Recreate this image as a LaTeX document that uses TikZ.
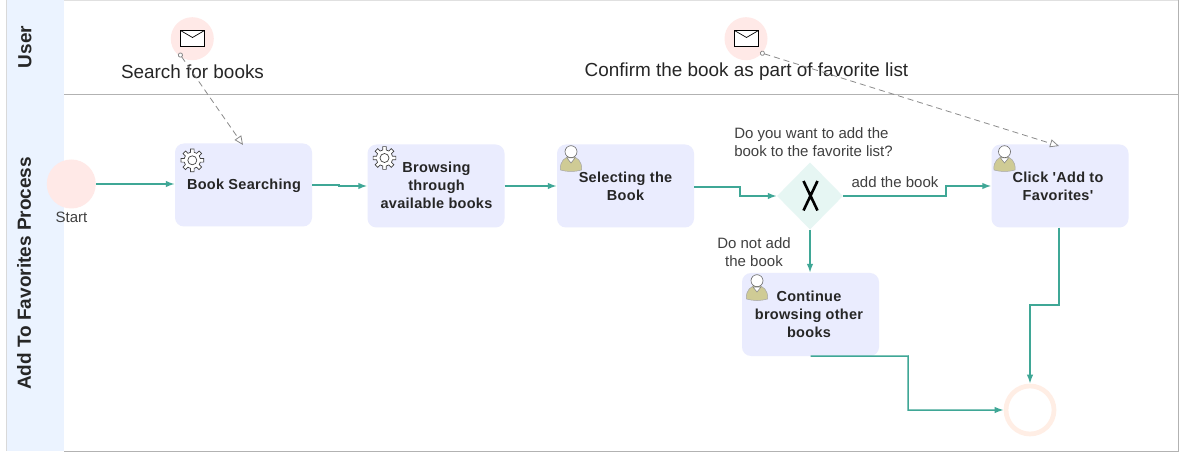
\documentclass[tikz,border=0pt]{standalone}
\usepackage{fontspec}
\setmainfont{Liberation Sans}
\newfontfamily\tasksf{Liberation Sans}[LetterSpace=2]
\usetikzlibrary{arrows.meta,shapes.geometric}
\definecolor{flow}{HTML}{3FA796}
\definecolor{lane}{HTML}{EBF3FF}
\definecolor{taskfill}{HTML}{EAECFE}
\definecolor{evfill}{HTML}{FFE9E7}
\definecolor{endring}{HTML}{FFEEE5}
\definecolor{gw}{HTML}{E6F6F3}
\definecolor{msgc}{HTML}{8A8A8A}
\definecolor{txt}{HTML}{404040}
\definecolor{usr}{HTML}{CFCB95}
\tikzset{
 flowline/.style={draw=flow,line width=1.5pt,-{Latex[length=9pt,width=6.5pt]}},
 msgline/.style={draw=msgc,line width=.8pt,dash pattern=on 6pt off 4pt,{Circle[open,length=5pt,width=5pt,fill=white]}-{Triangle[open,length=9pt,width=8pt,fill=white,line width=.8pt]}},
 taskbox/.style={fill=taskfill,rounded corners=9pt,minimum width=137pt,minimum height=83pt,inner sep=0pt},
 tasktext/.style={font=\fontsize{14.5}{18}\tasksf\bfseries\selectfont,text=black!85,inner sep=0pt,align=center},
 lanelabel/.style={rotate=90,font=\fontsize{19}{22}\selectfont\bfseries,text=black!85},
 plain/.style={font=\fontsize{15}{18}\selectfont,text=txt,align=center,inner sep=0pt},
 bigtxt/.style={font=\fontsize{18.9}{22}\selectfont,text=black!85,inner sep=0pt},
 msgev/.style={circle,fill=evfill,minimum size=43pt,inner sep=0pt},
}
\newcommand{\gearicon}[1]{%
 \begin{scope}[shift={#1}]
  \draw[black!75,line width=.7pt,fill=white]
   (-13:8.2pt) \foreach \a in {0,45,...,315}{
    -- (\a-13:8.2pt) -- (\a-9:11.5pt) -- (\a+9:11.5pt) -- (\a+13:8.2pt) arc[start angle=\a+13,end angle=\a+32,radius=8.2pt]
   } -- cycle;
  \draw[black!75,line width=.7pt,fill=white] (0,0) circle (4.5pt);
 \end{scope}}
\newcommand{\usericon}[1]{%
 \begin{scope}[shift={#1}]
  \draw[black!35,line width=.5pt,fill=usr] (-10.5,12) .. controls (-11.5,3) and (-6,-1) .. (0,-2) .. controls (6,-1) and (11.5,3) .. (10.5,12) .. controls (4,14) and (-4,14) .. (-10.5,12) -- cycle;
  \draw[black!50,line width=.5pt,fill=white] (-4,0) -- (0,5) -- (4,0) -- cycle;
  \draw[black!60,line width=.6pt,fill=white] (0,-6.3) circle (6pt);
 \end{scope}}
\newcommand{\mailicon}[1]{%
 \begin{scope}[shift={#1}]
  \draw[black,line width=.9pt,fill=white] (-12,-8) rectangle (12,8);
  \draw[black,line width=.7pt] (-12,-8) -- (0,-1) -- (12,-8);
 \end{scope}}
\begin{document}
\begin{tikzpicture}[x=1pt,y=-1pt]
\useasboundingbox (0,0) rectangle (1180,454);
\fill[white] (0,0) rectangle (1180,454);
% lanes
\fill[lane] (7,0) rectangle (64,451);
\draw[black!15,line width=.6pt] (6,0) -- (6,451);
\draw[black!12,line width=.8pt] (64,0.4) -- (1178.5,0.4);
\draw[black!30,line width=.8pt] (1178.5,0) -- (1178.5,451.5) -- (64,451.5);
\draw[black!30,line width=.8pt] (64,94.7) -- (1178.5,94.7);
\node[lanelabel] (laneU) at (25,47) {User};
\node[lanelabel] (laneP) at (24,273.5) {Add To Favorites Process};
% events
\node[msgev] (m1) at (192.3,38.7) {};
\node[msgev] (m2) at (746,38.7) {};
\mailicon{(192.5,38.5)}
\mailicon{(746.5,38.5)}
\node[bigtxt] (t1) at (192.5,72) {Search for books};
\node[bigtxt] (t2) at (746.5,72) {Confirm the book as part of favorite list};
\node[circle,fill=evfill,minimum size=49pt,inner sep=0pt] (start) at (71.3,184) {};
\node[plain] (startl) at (71.5,217.5) {Start};
\node[circle,draw=endring,line width=4.7pt,fill=white,minimum size=48pt,inner sep=0pt] (end) at (1030,410) {};
% tasks
\node[taskbox] (a) at (243.5,185) {};
\node[tasktext] (al) at (244,186) {Book Searching};
\node[taskbox] (b) at (436,186) {};
\node[tasktext] (bl) at (436.5,185.5) {Browsing\\through\\available books};
\node[taskbox] (c) at (625.5,186) {};
\node[tasktext] (cl) at (625.5,186) {Selecting the\\Book};
\node[taskbox] (d) at (1060,186) {};
\node[tasktext] (dl) at (1058,186) {Click 'Add to\\Favorites'};
\node[taskbox] (e) at (810.5,314.5) {};
\node[tasktext] (el) at (809,314.5) {Continue\\browsing other\\books};
\gearicon{(192.3,160.3)}
\gearicon{(384.5,158)}
\usericon{(571,158)}
\usericon{(1004.5,158)}
\usericon{(757,287)}
% gateway
\node[diamond,fill=gw,minimum width=66pt,minimum height=67pt,inner sep=0pt] (g) at (810,196) {};
\draw[black,line width=2.6pt] (803.5,181) -- (817.5,210.5) (817.5,181) -- (803.5,210.5);
% texts
\node[plain,align=left] (q) at (813.5,142) {Do you want to add the\\book to the favorite list?};
\node[plain] (l1) at (895,182) {add the book};
\node[plain] (l2) at (754,252.5) {Do not add\\the book};
% flows
\draw[flowline] (start.east) -- (start.east -| a.west);
\draw[flowline] (a.east) -- (339,185) -- (339,186) -- (b.west);
\draw[flowline] (b.east) -- (c.west);
\draw[flowline] ([yshift=-1pt]c.east) -- (740,187) -- (740,196) -- (g.west);
\draw[flowline] (g.east) -- (946,196) -- (946,186) -- (d.west);
\draw[flowline] (g.south) -- (g.south |- e.north);
\draw[flowline] (e.south) -- (908,356) -- (908,410) -- (end.west);
\draw[flowline] ([xshift=-1pt]d.south) -- (1059,305) -- (1030,305) -- (end.north);
% message flows
\coordinate (ms1) at (179,53);
\coordinate (me1) at (243,145);
\coordinate (ms2) at (760,52.5);
\coordinate (me2) at (1059,146);
\draw[msgline] (ms1) -- (me1);
\draw[msgline] (ms2) -- (me2);
\end{tikzpicture}
\end{document}
